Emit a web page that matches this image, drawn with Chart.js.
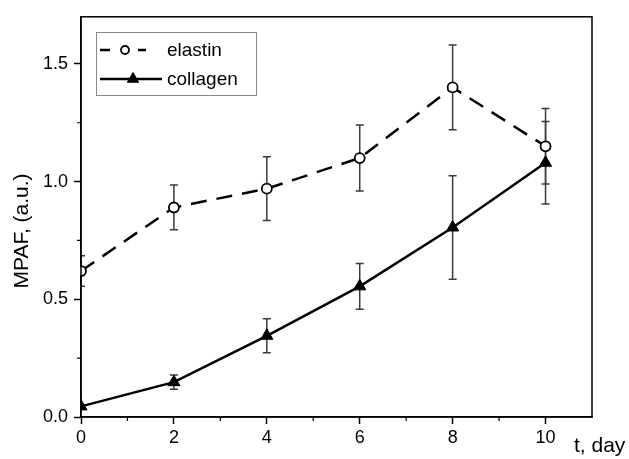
<!DOCTYPE html>
<html>
<head>
<meta charset="utf-8">
<script src="https://cdn.jsdelivr.net/npm/chart.js@4/dist/chart.umd.min.js"></script>
<style>
  html, body { margin: 0; padding: 0; background: #fff; }
  #wrap { width: 629px; height: 459px; }
</style>
</head>
<body>
<div id="wrap"><canvas id="myChart"></canvas></div>
<script>
const days = [0, 2, 4, 6, 8, 10];
const elastin = [0.62, 0.89, 0.97, 1.10, 1.40, 1.15];
const elastinErr = [0.065, 0.095, 0.135, 0.14, 0.18, 0.16];
const collagen = [0.045, 0.148, 0.345, 0.555, 0.805, 1.08];
const collagenErr = [0, 0.03, 0.072, 0.097, 0.22, 0.175];
const xMinor = [1, 3, 5, 7, 9];
const yMinor = [0.25, 0.75, 1.25];

const FONT = 'Liberation Sans, Arial, sans-serif';

function pts(ys) {
  return days.map((d, i) => ({ x: d, y: ys[i] }));
}

// error bars, minor ticks, frame, axis titles and legend
const extras = {
  id: 'extras',
  beforeDatasetsDraw(chart) {
    const ctx = chart.ctx, xs = chart.scales.x, ys = chart.scales.y;
    const a = chart.chartArea;
    ctx.save();
    ctx.beginPath();
    ctx.rect(a.left, a.top, a.right - a.left, a.bottom - a.top);
    ctx.clip();
    ctx.strokeStyle = '#3a3a3a';
    ctx.lineWidth = 1.5;
    const sets = [[elastin, elastinErr], [collagen, collagenErr]];
    sets.forEach(([vals, errs]) => {
      days.forEach((d, i) => {
        if (!errs[i]) return;
        const px = xs.getPixelForValue(d);
        const top = ys.getPixelForValue(vals[i] + errs[i]);
        const bot = ys.getPixelForValue(vals[i] - errs[i]);
        ctx.beginPath();
        ctx.moveTo(px, top); ctx.lineTo(px, bot);
        ctx.moveTo(px - 4, top); ctx.lineTo(px + 4, top);
        ctx.moveTo(px - 4, bot); ctx.lineTo(px + 4, bot);
        ctx.stroke();
      });
    });
    ctx.restore();
  },
  afterDraw(chart) {
    const ctx = chart.ctx, xs = chart.scales.x, ys = chart.scales.y;
    const a = chart.chartArea;
    ctx.save();
    // frame
    ctx.strokeStyle = '#000';
    ctx.lineWidth = 1.5;
    ctx.strokeRect(a.left, a.top, a.right - a.left, a.bottom - a.top);
    // minor ticks
    ctx.lineWidth = 1.2;
    ctx.beginPath();
    xMinor.forEach(v => {
      const px = xs.getPixelForValue(v);
      ctx.moveTo(px, a.bottom); ctx.lineTo(px, a.bottom + 4);
    });
    yMinor.forEach(v => {
      const py = ys.getPixelForValue(v);
      ctx.moveTo(a.left, py); ctx.lineTo(a.left - 4, py);
    });
    ctx.stroke();

    // axis titles
    ctx.fillStyle = '#000';
    ctx.font = '21px ' + FONT;
    ctx.textAlign = 'left';
    ctx.textBaseline = 'alphabetic';
    ctx.fillText('t, day', 574, 452);
    ctx.save();
    ctx.translate(28, 231);
    ctx.rotate(-Math.PI / 2);
    ctx.textAlign = 'center';
    ctx.fillText('MPAF, (a.u.)', 0, 0);
    ctx.restore();

    // legend
    const bx = 96.5, by = 32.5, bw = 160, bh = 63;
    ctx.fillStyle = '#fff';
    ctx.fillRect(bx, by, bw, bh);
    ctx.strokeStyle = '#8a8a8a';
    ctx.lineWidth = 1;
    ctx.strokeRect(bx, by, bw, bh);
    const rows = [50, 79];
    chart.data.datasets.forEach((ds, i) => {
      const y = rows[i];
      ctx.strokeStyle = '#000';
      ctx.lineWidth = 2.5;
      ctx.beginPath();
      if (i === 0) {
        ctx.moveTo(100, y); ctx.lineTo(110, y);
        ctx.moveTo(138, y); ctx.lineTo(146, y);
      } else {
        ctx.moveTo(100, y); ctx.lineTo(162, y);
      }
      ctx.stroke();
      ctx.fillStyle = ds.pointBackgroundColor;
      ctx.strokeStyle = '#000';
      ctx.lineWidth = ds.pointBorderWidth;
      Chart.helpers.drawPoint(ctx, {
        pointStyle: ds.pointStyle,
        radius: i === 0 ? 4 : 6.5,
        rotation: 0,
        borderWidth: ds.pointBorderWidth
      }, i === 0 ? 125 : 133, y);
      ctx.fillStyle = '#000';
      ctx.font = '19px ' + FONT;
      ctx.textAlign = 'left';
      ctx.textBaseline = 'middle';
      ctx.fillText(ds.label, 167, y + 1);
    });
    ctx.restore();
  }
};

new Chart(document.getElementById('myChart'), {
  type: 'line',
  data: {
    datasets: [{
      label: 'elastin',
      data: pts(elastin),
      borderColor: '#000',
      borderWidth: 2.5,
      borderDash: [16, 10],
      pointStyle: 'circle',
      pointRadius: 5,
      pointBackgroundColor: '#fff',
      pointBorderColor: '#000',
      pointBorderWidth: 1.8,
      fill: false,
      tension: 0,
      clip: 1
    }, {
      label: 'collagen',
      data: pts(collagen),
      borderColor: '#000',
      borderWidth: 2.5,
      pointStyle: 'triangle',
      pointRadius: 7,
      pointBackgroundColor: '#000',
      pointBorderColor: '#000',
      pointBorderWidth: 1,
      fill: false,
      tension: 0,
      clip: 1
    }]
  },
  options: {
    responsive: true,
    maintainAspectRatio: false,
    animation: false,
    layout: { padding: { left: 0, top: 13, right: 37, bottom: 0 } },
    plugins: {
      legend: { display: false },
      tooltip: { enabled: false }
    },
    scales: {
      x: {
        type: 'linear',
        min: 0,
        max: 11,
        border: { display: true, color: '#000', width: 1.5 },
        grid: { drawOnChartArea: false, drawTicks: true, tickLength: 7, tickColor: '#000', tickWidth: 1.5 },
        ticks: {
          stepSize: 2,
          includeBounds: false,
          padding: 3,
          color: '#000',
          font: { family: FONT, size: 18 },
          maxRotation: 0
        },
        afterFit(scale) { scale.height = 42; }
      },
      y: {
        min: 0,
        max: 1.7,
        border: { display: true, color: '#000', width: 1.5 },
        grid: { drawOnChartArea: false, drawTicks: true, tickLength: 7, tickColor: '#000', tickWidth: 1.5 },
        ticks: {
          stepSize: 0.5,
          includeBounds: false,
          padding: 6,
          color: '#000',
          font: { family: FONT, size: 18 },
          callback: v => v.toFixed(1)
        },
        afterFit(scale) { scale.width = 81; }
      }
    }
  },
  plugins: [extras]
});
</script>
</body>
</html>
